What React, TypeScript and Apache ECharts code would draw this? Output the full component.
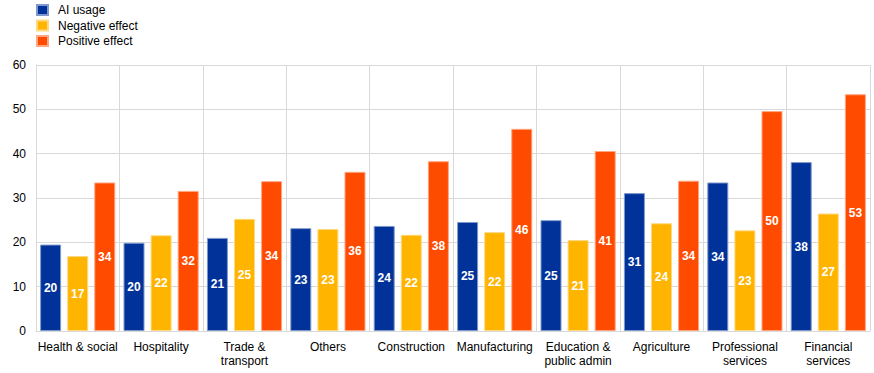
import React, { useEffect, useRef } from "react";
import * as echarts from "echarts";

const categories = [
  "Health & social",
  "Hospitality",
  "Trade &\ntransport",
  "Others",
  "Construction",
  "Manufacturing",
  "Education &\npublic admin",
  "Agriculture",
  "Professional\nservices",
  "Financial\nservices",
];
const aiUsage = [19.5, 19.9, 21.0, 23.2, 23.7, 24.6, 25.0, 31.1, 33.5, 38.1];
const negativeEffect = [16.9, 21.6, 25.3, 23.0, 21.7, 22.3, 20.5, 24.3, 22.7, 26.5];
const positiveEffect = [33.5, 31.6, 33.8, 35.9, 38.3, 45.6, 40.6, 33.9, 49.6, 53.4];
const seriesNames = ["AI usage", "Negative effect", "Positive effect"];
const colors = ["#003299", "#FFB400", "#FF4B00"];
const borderColors = ["#7f99cc", "#ffd980", "#ffa580"];

export default function App() {
  const ref = useRef<HTMLDivElement>(null);
  useEffect(() => {
    if (!ref.current) return;
    const chart = echarts.init(ref.current, undefined, { renderer: "svg" });
    const font = "Liberation Sans, Arial, sans-serif";
    const data = [aiUsage, negativeEffect, positiveEffect];
    chart.setOption({
      animation: false,
      textStyle: { fontFamily: font },
      legend: {
        orient: "vertical",
        left: 36,
        top: 4,
        padding: 0,
        itemWidth: 11,
        itemHeight: 10,
        itemGap: 3.5,
        icon: "rect",
        textStyle: { fontSize: 12, color: "#000", fontFamily: font, padding: [0, 0, 0, 5] },
        data: seriesNames,
      },
      grid: { left: 36, right: 4, top: 65, bottom: 42, containLabel: false },
      xAxis: {
        type: "category",
        data: categories,
        axisLine: { show: true, lineStyle: { color: "#d9d9d9", width: 1 } },
        axisTick: { show: false },
        splitLine: { show: true, lineStyle: { color: "#d9d9d9", width: 1 } },
        axisLabel: {
          interval: 0,
          color: "#000",
          fontSize: 12,
          fontFamily: font,
          margin: 9,
          lineHeight: 14,
        },
      },
      yAxis: {
        type: "value",
        min: 0,
        max: 60,
        interval: 10,
        axisLine: { show: true, lineStyle: { color: "#d9d9d9", width: 1 } },
        axisTick: { show: false },
        splitLine: { show: true, lineStyle: { color: "#d9d9d9", width: 1 } },
        axisLabel: { color: "#000", fontSize: 12, fontFamily: font, margin: 10 },
      },
      series: seriesNames.map((name, i) => ({
        name,
        type: "bar",
        data: data[i],
        barWidth: 21,
        barGap: "29%",
        itemStyle: { color: colors[i], borderColor: borderColors[i], borderWidth: 1 },
        label: {
          show: true,
          position: "inside",
          color: "#fff",
          fontWeight: "bold",
          fontSize: 12,
          fontFamily: font,
          formatter: (p: any) => String(Math.round(p.value)),
        },
      })),
    });
    return () => chart.dispose();
  }, []);
  return <div ref={ref} style={{ width: 874, height: 373, position: "absolute", left: 0, top: 0 }} />;
}
